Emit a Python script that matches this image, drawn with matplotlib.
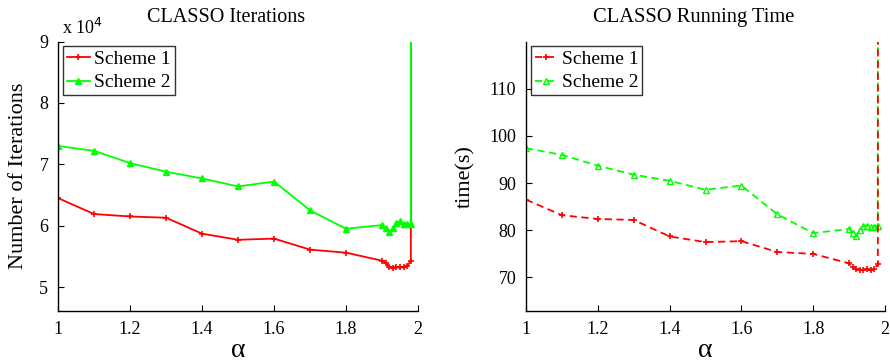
import numpy as np
import matplotlib
matplotlib.use("Agg")
import matplotlib.pyplot as plt
from matplotlib.ticker import FormatStrFormatter

plt.rcParams["font.family"] = ["Liberation Serif", "DejaVu Serif"]

# ── data ──────────────────────────────────────────────────
alpha = [1.0, 1.1, 1.2, 1.3, 1.4, 1.5, 1.6, 1.7, 1.8,
         1.9, 1.91, 1.92, 1.93, 1.94, 1.95, 1.96, 1.97, 1.98, 1.99]

# iterations (last point diverges)
iters_s1 = [64500, 61900, 61500, 61300, 58700, 57700, 57900, 56100, 55600,
            54300, 53900, 53300, 53100, 53200, 53200, 53200, 53400, 54300, 2000000]
iters_s2 = [73000, 72200, 70200, 68800, 67700, 66400, 67200, 62500, 59500,
            60100, 59600, 58900, 59600, 60500, 60700, 60300, 60300, 60300, 2000000]

# running time in seconds (last point diverges)
time_s1 = [86.5, 83.2, 82.4, 82.2, 78.7, 77.5, 77.7, 75.4, 75.0,
           73.0, 72.3, 71.8, 71.6, 71.5, 71.7, 71.5, 71.8, 72.8, 3000.0]
time_s2 = [97.4, 96.0, 93.7, 91.8, 90.5, 88.6, 89.5, 83.4, 79.4,
           80.3, 79.5, 78.8, 80.0, 81.0, 81.0, 80.8, 80.8, 81.0, 3000.0]

RED = (1, 0, 0)
GREEN = (0, 1, 0)

fig = plt.figure(figsize=(8.9, 3.63), dpi=100)
ax1 = fig.add_axes([0.0652, 0.1433, 0.4045, 0.742])
ax2 = fig.add_axes([0.591, 0.1433, 0.4034, 0.742])


def style(ax):
    for s in ("top", "right"):
        ax.spines[s].set_visible(False)
    for s in ("left", "bottom"):
        ax.spines[s].set_linewidth(1.0)
    ax.tick_params(direction="in", labelsize=13, length=4, width=0.8, pad=7)
    ax.set_xlim(1, 2)
    ax.set_xticks([1, 1.2, 1.4, 1.6, 1.8, 2])
    ax.xaxis.set_major_formatter(FormatStrFormatter("%g"))
    ax.set_xlabel("α", fontsize=20, labelpad=0)


def legend(ax, handles, labels):
    leg = ax.legend(handles, labels, loc="upper left", fontsize=14, frameon=True,
                    fancybox=False, handlelength=1.2, handletextpad=0.2,
                    borderpad=0.2, labelspacing=0.3, borderaxespad=0.25)
    leg.get_frame().set_edgecolor("black")
    leg.get_frame().set_linewidth(1.0)


# ── left: iterations ──────────────────────────────────────
it1 = np.array(iters_s1) / 1e4
it2 = np.array(iters_s2) / 1e4
ax1.plot(alpha, it1, "-", color=RED, lw=1.3, marker="+", ms=5, mew=1.2, label="Scheme 1")
ax1.plot(alpha, it2, "-", color=GREEN, lw=1.3, marker="^", ms=5, label="Scheme 2")
style(ax1)
ax1.set_ylim(4.61, 9)
ax1.set_yticks([5, 6, 7, 8, 9])
ax1.set_ylabel("Number of Iterations", fontsize=16, labelpad=8)
ax1.set_title("CLASSO Iterations", fontsize=14.5, pad=14, x=0.468)
ax1.text(0.01, 1.03, r"x 10$^4$", transform=ax1.transAxes, fontsize=13)
h, l = ax1.get_legend_handles_labels()
legend(ax1, h, l)

# ── right: running time ───────────────────────────────────
ax2.plot(alpha, time_s2, "--", color=GREEN, lw=1.3, dashes=(4, 2.5), marker="^", ms=5,
         mfc="none", mew=1.0, label="Scheme 2")
ax2.plot(alpha, time_s1, "--", color=RED, lw=1.3, dashes=(4, 2.5), marker="+", ms=5,
         mew=1.2, label="Scheme 1")
style(ax2)
ax2.set_ylim(62.9, 120)
ax2.set_yticks([70, 80, 90, 100, 110])
ax2.set_ylabel("time(s)", fontsize=16, labelpad=10)
ax2.set_title("CLASSO Running Time", fontsize=14.8, pad=14, x=0.467)
h, l = ax2.get_legend_handles_labels()
legend(ax2, h[::-1], l[::-1])

fig.savefig("out.png", dpi=100)
